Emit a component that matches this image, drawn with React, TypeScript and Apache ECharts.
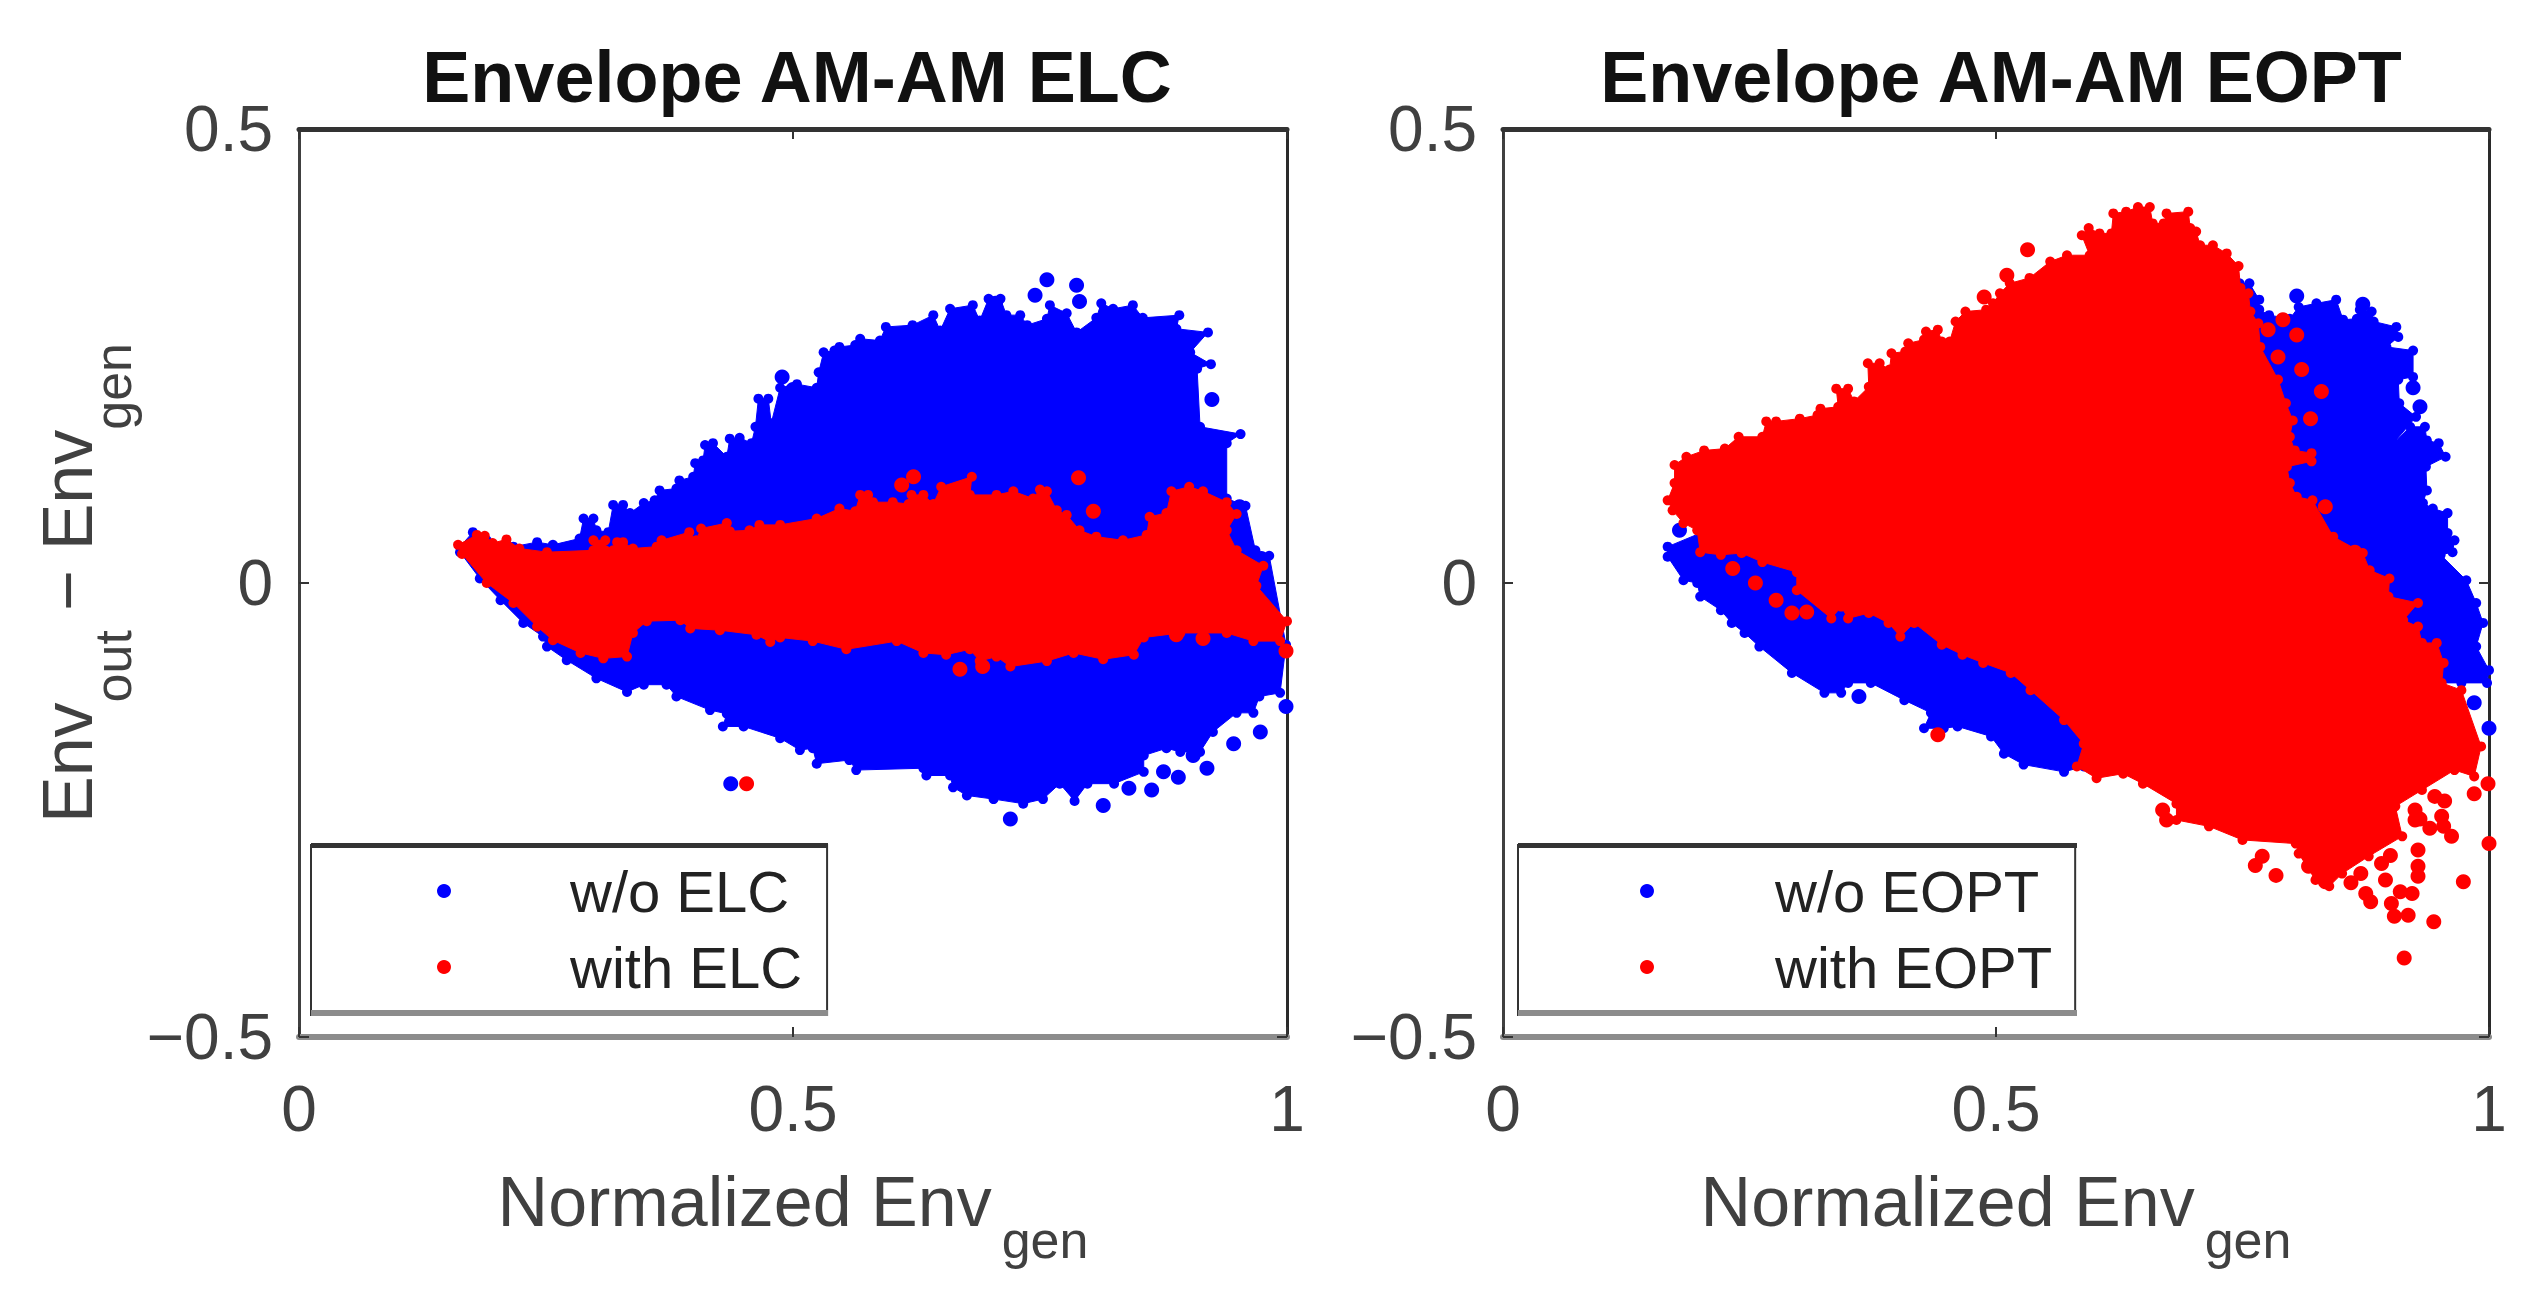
import React, { useEffect, useRef } from "react";
import * as echarts from "echarts";

type Pt = [number, number];

const titles = ["Envelope AM-AM ELC", "Envelope AM-AM EOPT"];
const legendElc = ["w/o ELC", "with ELC"];
const legendEopt = ["w/o EOPT", "with EOPT"];
const xTicks = [0, 0.5, 1];
const yTicks = [-0.5, 0, 0.5];
const BLUE = "#0000ff";
const RED = "#ff0000";

// Outer edge of the blue cloud, left panel
const blueEdgeElc: Pt[] = [
  [0.163, 0.04], [0.176, 0.056], [0.19, 0.047], [0.217, 0.04], [0.241, 0.045], [0.257, 0.042], [0.284, 0.049], [0.288, 0.071],
  [0.298, 0.071], [0.301, 0.058], [0.313, 0.056], [0.318, 0.086], [0.328, 0.086], [0.335, 0.077], [0.349, 0.088], [0.36, 0.091],
  [0.365, 0.102], [0.382, 0.104], [0.385, 0.113], [0.399, 0.117], [0.401, 0.132], [0.409, 0.135], [0.411, 0.152], [0.419, 0.154],
  [0.433, 0.139], [0.436, 0.159], [0.446, 0.16], [0.458, 0.154], [0.462, 0.172], [0.465, 0.203], [0.475, 0.203], [0.478, 0.176],
  [0.487, 0.215], [0.504, 0.219], [0.524, 0.215], [0.526, 0.232], [0.531, 0.254], [0.542, 0.256], [0.547, 0.26], [0.563, 0.262],
  [0.568, 0.269], [0.588, 0.267], [0.594, 0.282], [0.621, 0.284], [0.642, 0.295], [0.649, 0.278], [0.659, 0.302], [0.682, 0.306],
  [0.689, 0.289], [0.698, 0.313], [0.71, 0.313], [0.716, 0.295], [0.73, 0.295], [0.737, 0.284], [0.757, 0.291], [0.76, 0.306],
  [0.777, 0.297], [0.787, 0.276], [0.807, 0.292], [0.812, 0.308], [0.824, 0.302], [0.844, 0.306], [0.854, 0.292], [0.891, 0.295],
  [0.888, 0.28], [0.92, 0.276], [0.902, 0.254], [0.923, 0.241], [0.909, 0.236], [0.912, 0.172], [0.953, 0.164], [0.939, 0.154],
  [0.939, 0.093], [0.958, 0.085], [0.968, 0.036], [0.982, 0.03], [0.999, -0.068], [0.993, -0.121], [0.972, -0.125], [0.966, -0.143],
  [0.949, -0.143], [0.925, -0.164], [0.912, -0.186], [0.892, -0.186], [0.878, -0.182], [0.855, -0.19], [0.855, -0.208], [0.825, -0.221],
  [0.798, -0.221], [0.785, -0.24], [0.77, -0.221], [0.753, -0.238], [0.733, -0.243], [0.703, -0.238], [0.676, -0.234], [0.662, -0.225],
  [0.659, -0.212], [0.635, -0.212], [0.632, -0.204], [0.564, -0.206], [0.557, -0.195], [0.524, -0.199], [0.52, -0.182], [0.507, -0.184],
  [0.487, -0.171], [0.45, -0.158], [0.429, -0.158], [0.433, -0.144], [0.416, -0.14], [0.382, -0.125], [0.372, -0.112], [0.349, -0.112],
  [0.332, -0.12], [0.301, -0.105], [0.271, -0.085], [0.251, -0.07], [0.247, -0.059], [0.227, -0.044], [0.204, -0.019], [0.183, 0.005],
  [0.163, 0.034],
];
const blueDotsElc: Pt[] = [
  [0.489, 0.227], [0.5, 0.213], [0.757, 0.334], [0.787, 0.328], [0.745, 0.317], [0.79, 0.31], [0.705, 0.308], [0.924, 0.202],
  [0.952, 0.084], [0.974, 0.027], [0.72, -0.26], [0.814, -0.245], [0.84, -0.226], [0.863, -0.228], [0.875, -0.208], [0.89, -0.214],
  [0.919, -0.204], [0.946, -0.177], [0.973, -0.164], [0.905, -0.19], [0.999, -0.136], [0.437, -0.221],
];

// Outer edge of the red cloud, left panel
const redEdgeElc: Pt[] = [
  [0.161, 0.042], [0.18, 0.053], [0.188, 0.052], [0.196, 0.044], [0.21, 0.048], [0.223, 0.038], [0.251, 0.034], [0.298, 0.036],
  [0.298, 0.047], [0.31, 0.047], [0.31, 0.036], [0.318, 0.036], [0.322, 0.045], [0.328, 0.045], [0.338, 0.038], [0.362, 0.04],
  [0.367, 0.047], [0.395, 0.056], [0.402, 0.047], [0.407, 0.06], [0.433, 0.066], [0.436, 0.057], [0.456, 0.058], [0.466, 0.064],
  [0.487, 0.064], [0.524, 0.071], [0.547, 0.082], [0.563, 0.079], [0.568, 0.097], [0.576, 0.097], [0.581, 0.089], [0.601, 0.089],
  [0.617, 0.087], [0.62, 0.097], [0.632, 0.097], [0.642, 0.087], [0.65, 0.106], [0.681, 0.117], [0.679, 0.097], [0.706, 0.097],
  [0.723, 0.101], [0.743, 0.093], [0.75, 0.103], [0.757, 0.101], [0.767, 0.08], [0.777, 0.075], [0.79, 0.058], [0.807, 0.051],
  [0.834, 0.047], [0.858, 0.053], [0.861, 0.073], [0.878, 0.077], [0.883, 0.101], [0.901, 0.106], [0.915, 0.101], [0.939, 0.089],
  [0.949, 0.076], [0.939, 0.058], [0.949, 0.036], [0.976, 0.019], [0.969, -0.003], [1.0, -0.042], [0.993, -0.064], [0.966, -0.064],
  [0.939, -0.055], [0.892, -0.055], [0.855, -0.06], [0.845, -0.079], [0.814, -0.084], [0.784, -0.077], [0.757, -0.086], [0.72, -0.092],
  [0.706, -0.081], [0.689, -0.086], [0.679, -0.073], [0.655, -0.079], [0.632, -0.077], [0.605, -0.064], [0.554, -0.073], [0.52, -0.064],
  [0.487, -0.06], [0.477, -0.065], [0.463, -0.057], [0.426, -0.052], [0.396, -0.05], [0.386, -0.041], [0.352, -0.042], [0.338, -0.055],
  [0.332, -0.081], [0.308, -0.083], [0.285, -0.077], [0.257, -0.063], [0.241, -0.048], [0.217, -0.022], [0.19, 0], [0.165, 0.032],
];
const redDotsElc: Pt[] = [
  [0.622, 0.117], [0.61, 0.108], [0.789, 0.116], [0.804, 0.079], [0.888, -0.057], [0.915, -0.061], [0.669, -0.095], [0.692, -0.092],
  [0.999, -0.075], [0.453, -0.221],
];

// Outer edge of the blue cloud, right panel
const blueEdgeEopt: Pt[] = [
  [0.167, 0.04], [0.3, 0.1], [0.747, 0.33], [0.757, 0.33], [0.767, 0.312], [0.767, 0.301], [0.777, 0.295], [0.798, 0.291],
  [0.807, 0.304], [0.825, 0.308], [0.845, 0.312], [0.852, 0.29], [0.866, 0.291], [0.869, 0.301], [0.881, 0.299], [0.883, 0.288],
  [0.906, 0.282], [0.908, 0.271], [0.896, 0.26], [0.923, 0.256], [0.923, 0.227], [0.908, 0.224], [0.909, 0.198], [0.926, 0.183],
  [0.903, 0.154], [0.92, 0.172], [0.935, 0.172], [0.937, 0.157], [0.949, 0.154], [0.956, 0.139], [0.936, 0.128], [0.937, 0.102],
  [0.933, 0.088], [0.943, 0.082], [0.958, 0.077], [0.958, 0.055], [0.965, 0.047], [0.963, 0.034], [0.951, 0.031], [0.977, 0.003],
  [0.987, -0.022], [0.994, -0.044], [0.987, -0.07], [1.0, -0.096], [0.998, -0.11], [0.972, -0.11], [0.95, -0.11], [0.589, -0.202],
  [0.569, -0.208], [0.528, -0.2], [0.508, -0.188], [0.495, -0.169], [0.461, -0.158], [0.447, -0.16], [0.427, -0.16], [0.434, -0.143],
  [0.407, -0.129], [0.373, -0.11], [0.35, -0.11], [0.343, -0.121], [0.326, -0.121], [0.293, -0.099], [0.26, -0.07], [0.245, -0.055],
  [0.232, -0.044], [0.221, -0.03], [0.2, -0.015], [0.197, 0], [0.183, 0.003], [0.167, 0.029],
];
const blueDotsEopt: Pt[] = [
  [0.179, 0.058], [0.361, -0.125], [1.0, -0.16], [0.985, -0.132], [0.805, 0.316], [0.872, 0.307], [0.923, 0.215], [0.93, 0.194],
];

// Outer edge of the red cloud, right panel
const redEdgeEopt: Pt[] = [
  [0.167, 0.091], [0.174, 0.11], [0.174, 0.13], [0.186, 0.139], [0.204, 0.146], [0.225, 0.148], [0.239, 0.161], [0.263, 0.161],
  [0.267, 0.178], [0.277, 0.178], [0.301, 0.181], [0.319, 0.185], [0.322, 0.192], [0.34, 0.194], [0.338, 0.214], [0.35, 0.214],
  [0.356, 0.2], [0.371, 0.216], [0.37, 0.242], [0.382, 0.242], [0.392, 0.235], [0.394, 0.253], [0.408, 0.255], [0.411, 0.264],
  [0.427, 0.268], [0.429, 0.277], [0.441, 0.279], [0.445, 0.266], [0.453, 0.266], [0.459, 0.288], [0.469, 0.299], [0.49, 0.301],
  [0.497, 0.308], [0.504, 0.319], [0.514, 0.33], [0.534, 0.336], [0.555, 0.354], [0.572, 0.361], [0.595, 0.361], [0.587, 0.383],
  [0.594, 0.391], [0.605, 0.385], [0.617, 0.385], [0.619, 0.407], [0.632, 0.409], [0.644, 0.414], [0.656, 0.414], [0.659, 0.396],
  [0.67, 0.396], [0.673, 0.407], [0.695, 0.409], [0.697, 0.391], [0.703, 0.387], [0.707, 0.372], [0.72, 0.372], [0.734, 0.363],
  [0.746, 0.349], [0.748, 0.325], [0.756, 0.319], [0.758, 0.299], [0.766, 0.286], [0.768, 0.26], [0.786, 0.224], [0.794, 0.198],
  [0.801, 0.179], [0.798, 0.161], [0.803, 0.146], [0.82, 0.143], [0.82, 0.134], [0.795, 0.128], [0.798, 0.11], [0.805, 0.095],
  [0.821, 0.091], [0.842, 0.051], [0.872, 0.033], [0.879, 0.014], [0.899, 0.005], [0.898, -0.015], [0.928, -0.022], [0.913, -0.041],
  [0.928, -0.048], [0.932, -0.066], [0.947, -0.066], [0.954, -0.088], [0.952, -0.11], [0.972, -0.118], [0.992, -0.18], [0.985, -0.213],
  [0.965, -0.206], [0.932, -0.228], [0.905, -0.246], [0.912, -0.279], [0.878, -0.301], [0.851, -0.32], [0.838, -0.334], [0.824, -0.327],
  [0.807, -0.298], [0.804, -0.287], [0.75, -0.283], [0.716, -0.268], [0.683, -0.261], [0.683, -0.243], [0.649, -0.221], [0.629, -0.21],
  [0.602, -0.215], [0.582, -0.202], [0.589, -0.177], [0.569, -0.151], [0.535, -0.118], [0.515, -0.099], [0.487, -0.088], [0.466, -0.079],
  [0.445, -0.068], [0.417, -0.044], [0.403, -0.059], [0.391, -0.044], [0.371, -0.033], [0.35, -0.039], [0.343, -0.026], [0.333, -0.039],
  [0.298, -0.008], [0.298, 0.012], [0.263, 0.023], [0.242, 0.033], [0.221, 0.031], [0.2, 0.034], [0.197, 0.058], [0.183, 0.066],
  [0.172, 0.08],
];
const redDotsEopt: Pt[] = [
  [0.488, 0.315], [0.511, 0.339], [0.532, 0.367], [0.791, 0.29], [0.776, 0.279], [0.805, 0.273], [0.786, 0.249], [0.81, 0.235],
  [0.83, 0.211], [0.819, 0.181], [0.834, 0.084], [0.864, 0.034], [0.233, 0.016], [0.256, 0], [0.277, -0.019], [0.293, -0.033],
  [0.308, -0.032], [0.441, -0.167], [0.669, -0.25], [0.673, -0.261], [0.77, -0.301], [0.763, -0.311], [0.784, -0.322], [0.925, -0.25],
  [0.925, -0.261], [0.952, -0.257], [0.954, -0.268], [0.962, -0.279], [0.999, -0.221], [0.985, -0.232], [1.0, -0.287], [0.974, -0.329],
  [0.928, -0.294], [0.928, -0.312], [0.928, -0.323], [0.922, -0.342], [0.891, -0.309], [0.895, -0.327], [0.901, -0.353], [0.904, -0.367],
  [0.918, -0.366], [0.875, -0.342], [0.88, -0.351], [0.944, -0.373], [0.914, -0.413], [0.834, -0.329], [0.817, -0.312],
  [0.945, -0.235], [0.94, -0.27], [0.955, -0.24], [0.93, -0.26], [0.87, -0.32], [0.86, -0.33], [0.9, -0.3], [0.91, -0.34],
];

const FONT = '"Liberation Sans", Arial, sans-serif';
const TICK = "#404040";

const gridBoxes = [
  { left: 299, width: 988, top: 129, height: 908, center: 792 },
  { left: 1503, width: 986, top: 129, height: 908, center: 1996 },
];
const legendBoxes = [
  { left: 311, width: 517 },
  { left: 1518, width: 559 },
];

function edge(name: string, color: string, pts: Pt[], axis: number, z: number) {
  return {
    type: "custom",
    name,
    xAxisIndex: axis,
    yAxisIndex: axis,
    coordinateSystem: "cartesian2d",
    clip: false,
    z,
    silent: true,
    itemStyle: { color },
    data: pts,
    encode: { x: 0, y: 1 },
    renderItem: (params: any, api: any) => {
      if (params.dataIndex !== 0) return null;
      return {
        type: "polygon",
        shape: { points: pts.map((p) => api.coord(p)) },
        style: { fill: color, stroke: color, lineWidth: 1 },
      };
    },
  };
}

function dots(name: string, color: string, pts: Pt[], axis: number, z: number, size = 15) {
  return {
    type: "scatter",
    name,
    xAxisIndex: axis,
    yAxisIndex: axis,
    clip: false,
    z,
    silent: true,
    symbol: "circle",
    symbolSize: size,
    itemStyle: { color, opacity: 1 },
    data: pts,
  };
}

function axesFor(i: number) {
  const axisIndex = i;
  const fmtY = (v: number) => (v < 0 ? "\u2212" + Math.abs(v) : String(v));
  const x = (position: string, main: boolean) => ({
    type: "value",
    gridIndex: axisIndex,
    position,
    min: xTicks[0],
    max: xTicks[2],
    interval: 0.5,
    splitLine: { show: false },
    axisLine: {
      show: true,
      onZero: false,
      lineStyle: main ? { color: "#8c8c8c", width: 6 } : { color: "#333333", width: 5 },
    },
    axisTick: { show: true, inside: true, length: 10, lineStyle: { color: "#333333", width: 2 } },
    axisLabel: main
      ? { show: true, fontFamily: FONT, fontSize: 64, color: TICK, margin: 40, hideOverlap: false, showMinLabel: true, showMaxLabel: true }
      : { show: false },
    ...(main
      ? {
          name: "{m|Normalized Env}{s|gen}",
          nameLocation: "middle",
          nameGap: 130,
          nameTextStyle: {
            rich: {
              m: { fontFamily: FONT, fontSize: 70, color: TICK, lineHeight: 103, verticalAlign: "top" },
              s: { fontFamily: FONT, fontSize: 52, color: TICK, lineHeight: 103, verticalAlign: "bottom", padding: [0, 0, 4, 10] },
            },
          },
        }
      : {}),
  });
  const y = (position: string, main: boolean) => ({
    type: "value",
    gridIndex: axisIndex,
    position,
    min: yTicks[0],
    max: yTicks[2],
    interval: 0.5,
    splitLine: { show: false },
    axisLine: {
      show: true,
      onZero: false,
      lineStyle: main ? { color: "#404040", width: 3 } : { color: "#2a2a2a", width: 3 },
    },
    axisTick: { show: true, inside: true, length: 10, lineStyle: { color: "#333333", width: 2 } },
    axisLabel: main
      ? { show: true, fontFamily: FONT, fontSize: 64, color: TICK, margin: 26, formatter: fmtY, showMinLabel: true, showMaxLabel: true }
      : { show: false },
    ...(main && i === 0
      ? {
          name: "{m|Env}{s|out}{m| \u2212 Env}{s|gen}",
          nameLocation: "middle",
          nameGap: 152,
          nameTextStyle: {
            rich: {
              m: { fontFamily: FONT, fontSize: 70, color: TICK, lineHeight: 110, verticalAlign: "top" },
              s: { fontFamily: FONT, fontSize: 52, color: TICK, lineHeight: 110, verticalAlign: "bottom", padding: [0, 0, 4, 0] },
            },
          },
        }
      : {}),
  });
  return { xs: [x("bottom", true), x("top", false)], ys: [y("left", true), y("right", false)] };
}

function legendFor(names: string[], left: number, padL: number, padR: number, width: number) {
  return {
    show: true,
    orient: "vertical",
    left,
    top: 845,
    selectedMode: false,
    padding: [17, padR, 19, padL],
    itemWidth: width,
    itemHeight: 14,
    itemGap: 18,
    borderColor: "#333333",
    borderWidth: 2,
    backgroundColor: "#ffffff",
    textStyle: { fontFamily: FONT, fontSize: 58, color: "#222222" },
    data: [
      { name: names[0], icon: "circle", itemStyle: { color: BLUE } },
      { name: names[1], icon: "circle", itemStyle: { color: RED } },
    ],
  };
}

export default function App() {
  const ref = useRef<HTMLDivElement>(null);
  useEffect(() => {
    document.body.style.margin = "0";
    const chart = echarts.init(ref.current!, undefined, { renderer: "svg" });
    const a0 = axesFor(0);
    const a1 = axesFor(1);
    chart.setOption({
      animation: false,
      backgroundColor: "#ffffff",
      title: titles.map((text, i) => ({
        text,
        left: gridBoxes[i].center,
        top: 36,
        textAlign: "center",
        textStyle: { fontFamily: FONT, fontSize: 72, fontWeight: "bold", color: "#111111" },
      })),
      grid: gridBoxes.map((g) => ({ left: g.left, top: g.top, width: g.width, height: g.height, containLabel: false })),
      xAxis: [...a0.xs, ...a1.xs],
      yAxis: [...a0.ys, ...a1.ys],
      legend: [legendFor(legendElc, 311, 126, 25, 242), legendFor(legendEopt, 1518, 122, 23, 246)],
      graphic: legendBoxes.flatMap((b) => [
        { type: "rect", z: 20, silent: true, shape: { x: b.left, y: 843, width: b.width, height: 5 }, style: { fill: "#333333" } },
        { type: "rect", z: 20, silent: true, shape: { x: b.left, y: 1010, width: b.width, height: 6 }, style: { fill: "#8c8c8c" } },
      ]),
      series: [
        edge(legendElc[0], BLUE, blueEdgeElc, 0, 2),
        dots(legendElc[0], BLUE, blueEdgeElc, 0, 2, 10),
        dots(legendElc[0], BLUE, blueDotsElc, 0, 2),
        edge(legendElc[1], RED, redEdgeElc, 0, 3),
        dots(legendElc[1], RED, redEdgeElc, 0, 3, 10),
        dots(legendElc[1], RED, redDotsElc, 0, 3),
        edge(legendEopt[0], BLUE, blueEdgeEopt, 2, 2),
        dots(legendEopt[0], BLUE, blueEdgeEopt, 2, 2, 10),
        dots(legendEopt[0], BLUE, blueDotsEopt, 2, 2),
        edge(legendEopt[1], RED, redEdgeEopt, 2, 3),
        dots(legendEopt[1], RED, redEdgeEopt, 2, 3, 10),
        dots(legendEopt[1], RED, redDotsEopt, 2, 3),
      ],
    });
    return () => chart.dispose();
  }, []);
  return <div ref={ref} style={{ position: "absolute", left: 0, top: 0, width: 2535, height: 1309 }} />;
}
